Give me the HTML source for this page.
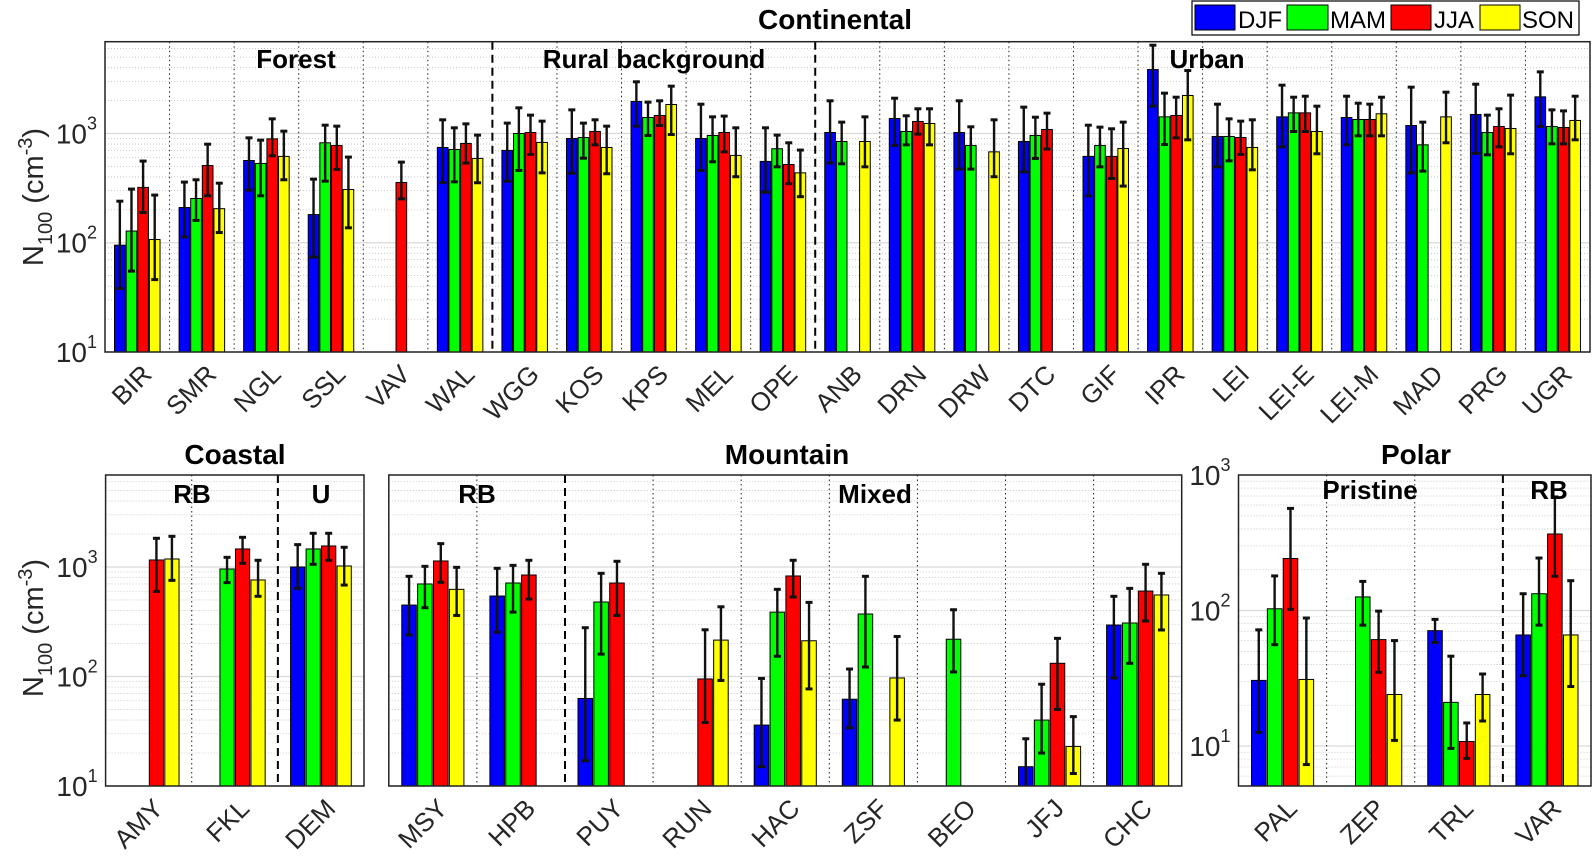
<!DOCTYPE html>
<html><head><meta charset="utf-8"><style>
body{margin:0;background:#fff}
svg{display:block;font-family:"Liberation Sans",sans-serif}
</style></head><body>
<svg id="chart" width="1593" height="856" viewBox="0 0 1593 856" xmlns="http://www.w3.org/2000/svg">
<g id="legend">
<rect x="1192" y="1" width="387" height="34" fill="#fff" stroke="#000" stroke-width="1.2"/>
<rect x="1195" y="5" width="40" height="25" fill="#0000ff" stroke="#000"/>
<text x="1238" y="28" font-size="24">DJF</text>
<rect x="1287" y="5" width="41" height="25" fill="#00ff00" stroke="#000"/>
<text x="1330" y="28" font-size="24">MAM</text>
<rect x="1391" y="5" width="40" height="25" fill="#ff0000" stroke="#000"/>
<text x="1434" y="28" font-size="24">JJA</text>
<rect x="1480" y="5" width="40" height="25" fill="#ffff00" stroke="#000"/>
<text x="1522" y="28" font-size="24">SON</text>
</g>
</svg>
<script>
// ---------- data: Continental ----------
const topSites=["BIR","SMR","NGL","SSL","VAV","WAL","WGG","KOS","KPS","MEL","OPE","ANB","DRN","DRW","DTC","GIF","IPR","LEI","LEI-E","LEI-M","MAD","PRG","UGR"];
const topDJF=[95,210,566,181,null,745,700,900,1963,900,555,1021,1371,1021,845,617,3846,939,1420,1400,1183,1493,2164];
const topDJFLo=[38,113,303,74,null,356,366,433,1167,459,290,536,777,472,446,269,1778,495,755,787,436,657,1159];
const topDJFHi=[240,359,912,382,null,1334,1244,1645,2972,1854,1127,1991,2103,1991,1742,1191,6427,1854,2767,2193,2655,2825,3664];
const topMAM=[128,254,532,822,null,714,1000,918,1400,959,725,845,1043,777,959,777,1420,939,1545,1343,787,1021,1159];
const topMAMLo=[55,160,269,366,null,361,459,594,959,551,495,528,787,472,591,495,793,562,1043,952,452,638,804];
const topMAMHi=[310,377,869,1191,null,1127,1717,1244,1935,1420,966,1270,1452,1151,1409,1143,2339,1361,2148,1893,1270,1472,1645];
const topJJA=[321,509,893,777,356,811,1021,1043,1461,1021,520,null,1288,null,1088,617,1461,918,1545,1343,null,1159,1135];
const topJJALo=[189,269,625,469,252,536,643,787,1183,679,347,null,986,null,720,387,912,643,1043,952,null,755,804];
const topJJAHi=[559,798,1361,1167,547,1225,1472,1334,1991,1442,822,null,1683,null,1535,1104,2148,1297,2193,1854,null,1683,1610];
const topSON=[107,205,617,307,null,591,828,745,1841,630,436,845,1234,679,null,729,2228,745,1043,1514,1420,1111,1316];
const topSONLo=[46,124,377,137,null,354,436,428,979,402,264,495,787,402,null,330,875,465,652,952,822,652,875];
const topSONHi=[273,351,1050,608,null,966,1297,1167,2711,1127,705,1420,1683,1334,null,1270,3767,1334,1778,2148,2388,2244,2193];
// ---------- Coastal ----------
const coastSites=["AMY","FKL","DEM"];
const coastDJF=[null,null,1000], coastDJFLo=[null,null,638], coastDJFHi=[null,null,1600];
const coastMAM=[null,959,1461], coastMAMLo=[null,720,1058], coastMAMHi=[null,1225,2031];
const coastJJA=[1159,1461,1556], coastJJALo=[598,1081,1151], coastJJAHi=[1828,1866,2031];
const coastSON=[1183,761,1021], coastSONLo=[755,540,684], coastSONHi=[1906,1151,1514];
// ---------- Mountain ----------
const mtnSites=["MSY","HPB","PUY","RUN","HAC","ZSF","BEO","JFJ","CHC"];
const mtnDJF=[449,543,63,null,36,62,null,15,295];
const mtnDJFLo=[239,254,17,null,15,34,null,8,97];
const mtnDJFHi=[822,972,279,null,96,117,null,27,540];
const mtnMAM=[700,714,479,null,387,372,219,40,308];
const mtnMAMLo=[425,387,160,null,153,122,110,20,132];
const mtnMAMHi=[1014,1035,875,null,625,822,407,85,638];
const mtnJJA=[1135,845,714,95,828,null,null,132,603];
const mtnJJALo=[724,509,361,38,532,null,null,50,321];
const mtnJJAHi=[1634,1151,1127,267,1151,null,null,223,1058];
const mtnSON=[625,null,null,215,212,97,null,23,555];
const mtnSONLo=[361,null,null,92,77,40,null,13,266];
const mtnSONHi=[993,null,null,433,475,232,null,43,875];
// ---------- Polar ----------
const polSites=["PAL","ZEP","TRL","VAR"];
const polDJF=[30.5,null,71,66], polDJFLo=[12.6,null,58,33], polDJFHi=[72,null,86,133];
const polMAM=[103,126,21,133], polMAMLo=[56,78,9.6,78], polMAMHi=[180,164,46,244];
const polJJA=[242,61,10.8,367], polJJALo=[102,35,8.1,179], polJJAHi=[567,99,14.8,689];
const polSON=[31,24,24,66], polSONLo=[7.3,11,15.3,27.5], polSONHi=[88,60,34,166];

const NS="http://www.w3.org/2000/svg";
const svg=document.getElementById('chart');
const colors=["#0000ff","#00ff00","#ff0000","#ffff00"];
const seasons=["djf","mam","jja","son"];
function mk(tag,attrs,parent){const e=document.createElementNS(NS,tag);for(const k in attrs)e.setAttribute(k,attrs[k]);(parent||svg).appendChild(e);return e;}

function drawPanel(name,P,cats,vals,los,his,dashedAfter,showY){
  const g=mk('g',{});
  
  
  const H=P.y1-P.y0;
  const ys=v=>P.y1-(Math.log10(v)-P.lmin)/(P.lmax-P.lmin)*H;
  const cw=(P.x1-P.x0)/cats.length;
  const xs=i=>P.x0+(i+0.5)*cw;
  for(let d=Math.floor(P.lmin);d<Math.ceil(P.lmax);d++){
    for(let m=1;m<10;m++){
      const v=m*Math.pow(10,d);const l=Math.log10(v);
      if(l<P.lmin-1e-6||l>P.lmax+1e-6)continue;
      const y=ys(v);
      if(m===1){const gl=mk('line',{x1:P.x0,x2:P.x1,y1:y,y2:y,stroke:'#d9d9d9','stroke-width':1.2},g);
        }
      else{const gl=mk('line',{x1:P.x0,x2:P.x1,y1:y,y2:y,stroke:'#bdbdbd','stroke-width':0.8,'stroke-dasharray':'1 2'},g);
        }
    }
  }
  if(showY){
    for(let d=Math.ceil(P.lmin-1e-6);d<=Math.floor(P.lmax+1e-6);d++){
      const y=ys(Math.pow(10,d));
      const t=mk('text',{x:P.x0-8,y:y+10,'font-size':28,'text-anchor':'end',fill:'#262626'},g);
      
      t.appendChild(document.createTextNode('10'));
      const s=mk('tspan',{dy:-14,'font-size':18},t);s.textContent=String(d);
    }
  }
  for(let i=1;i<cats.length;i++){
    const x=P.x0+i*cw;
    if(dashedAfter.includes(i)){const l=mk('line',{x1:x,x2:x,y1:P.y0,y2:P.y1,stroke:'#000','stroke-width':2,'stroke-dasharray':'8 5'},g);
      }
    else{const l=mk('line',{x1:x,x2:x,y1:P.y0,y2:P.y1,stroke:'#222','stroke-width':1,'stroke-dasharray':'1.5 3'},g);
      }
  }
  const bw=cw*0.165, sp=cw*0.18;
  for(let s=0;s<4;s++){
    for(let i=0;i<cats.length;i++){
      const v=vals[s][i]; if(v==null)continue;
      const cx=xs(i)+(s-1.5)*sp;
      const yt=Math.max(P.y0,ys(v));
      const r=mk('rect',{x:cx-bw/2,y:yt,width:bw,height:P.y1-yt,fill:colors[s],stroke:'#000','stroke-width':1},g);
      
      
      const lo=Math.min(P.y1,ys(los[s][i])), hi=Math.max(P.y0,ys(his[s][i]));
      const eb=mk('g',{stroke:'#111','stroke-width':2.4},g);
      
      
      mk('line',{x1:cx,x2:cx,y1:lo,y2:hi},eb);
      if(ys(his[s][i])>=P.y0) mk('line',{x1:cx-3.5,x2:cx+3.5,y1:hi,y2:hi,'stroke-width':3},eb);
      if(ys(los[s][i])<=P.y1) mk('line',{x1:cx-3.5,x2:cx+3.5,y1:lo,y2:lo,'stroke-width':3},eb);
    }
  }
  const fr=mk('rect',{x:P.x0,y:P.y0,width:P.x1-P.x0,height:H,fill:'none',stroke:'#222','stroke-width':1.5},g);
  
  for(let i=0;i<cats.length;i++){
    const ax=xs(i)+16, ay=P.y1+24;
    const t=mk('text',{x:ax,y:ay,'font-size':26,'text-anchor':'end',fill:'#262626',transform:`rotate(-45 ${ax} ${ay})`},g);
    
    
    t.textContent=cats[i];
  }
}
drawPanel('continental',{x0:105,x1:1590,y0:41.7,y1:352,lmin:1,lmax:3.84},topSites,
  [topDJF,topMAM,topJJA,topSON],[topDJFLo,topMAMLo,topJJALo,topSONLo],[topDJFHi,topMAMHi,topJJAHi,topSONHi],[6,11],true);
drawPanel('coastal',{x0:105.6,x1:364,y0:475,y1:786,lmin:1,lmax:3.84},coastSites,
  [coastDJF,coastMAM,coastJJA,coastSON],[coastDJFLo,coastMAMLo,coastJJALo,coastSONLo],[coastDJFHi,coastMAMHi,coastJJAHi,coastSONHi],[2],true);
drawPanel('mountain',{x0:388.8,x1:1181.7,y0:475,y1:786,lmin:1,lmax:3.84},mtnSites,
  [mtnDJF,mtnMAM,mtnJJA,mtnSON],[mtnDJFLo,mtnMAMLo,mtnJJALo,mtnSONLo],[mtnDJFHi,mtnMAMHi,mtnJJAHi,mtnSONHi],[2],false);
drawPanel('polar',{x0:1238.5,x1:1591,y0:475,y1:786,lmin:Math.log10(5.07),lmax:3},polSites,
  [polDJF,polMAM,polJJA,polSON],[polDJFLo,polMAMLo,polJJALo,polSONLo],[polDJFHi,polMAMHi,polJJAHi,polSONHi],[3],true);

function label(txt,x,y,size,name,bold){
  const t=mk('text',{x:x,y:y,'font-size':size,'text-anchor':'middle','font-weight':bold?'bold':'normal'});
  
  
  t.textContent=txt;return t;
}
label('Continental',835,29,28,'continental-title',true);
label('Forest',296,68,26,'forest-label',true);
label('Rural background',654,68,26,'rural-background-label',true);
label('Urban',1207,68,26,'urban-label',true);
label('Coastal',235,464,28,'coastal-title',true);
label('Mountain',787,464,28,'mountain-title',true);
label('Polar',1416,464,28,'polar-title',true);
label('RB',192,503,26,'coastal-rb-label',true);
label('U',321,503,26,'coastal-u-label',true);
label('RB',477,503,26,'mountain-rb-label',true);
label('Mixed',875,503,26,'mixed-label',true);
label('Pristine',1370,499,26,'pristine-label',true);
label('RB',1549,499,26,'polar-rb-label',true);

function ylab(cy,name){
  const t=mk('text',{x:0,y:0,'font-size':29,'text-anchor':'middle',fill:'#262626',transform:`translate(43 ${cy}) rotate(-90)`});
  
  
  t.appendChild(document.createTextNode('N'));
  const a=mk('tspan',{dy:9,'font-size':20},t);a.textContent='100';
  const b=mk('tspan',{dy:-9},t);b.textContent=' (cm';
  const c=mk('tspan',{dy:-11,'font-size':20},t);c.textContent='-3';
  const d=mk('tspan',{dy:11},t);d.textContent=')';
}
ylab(197,'y-axis-title-top');
ylab(628,'y-axis-title-bottom');
svg.appendChild(document.getElementById('legend'));
</script>
</body></html>
